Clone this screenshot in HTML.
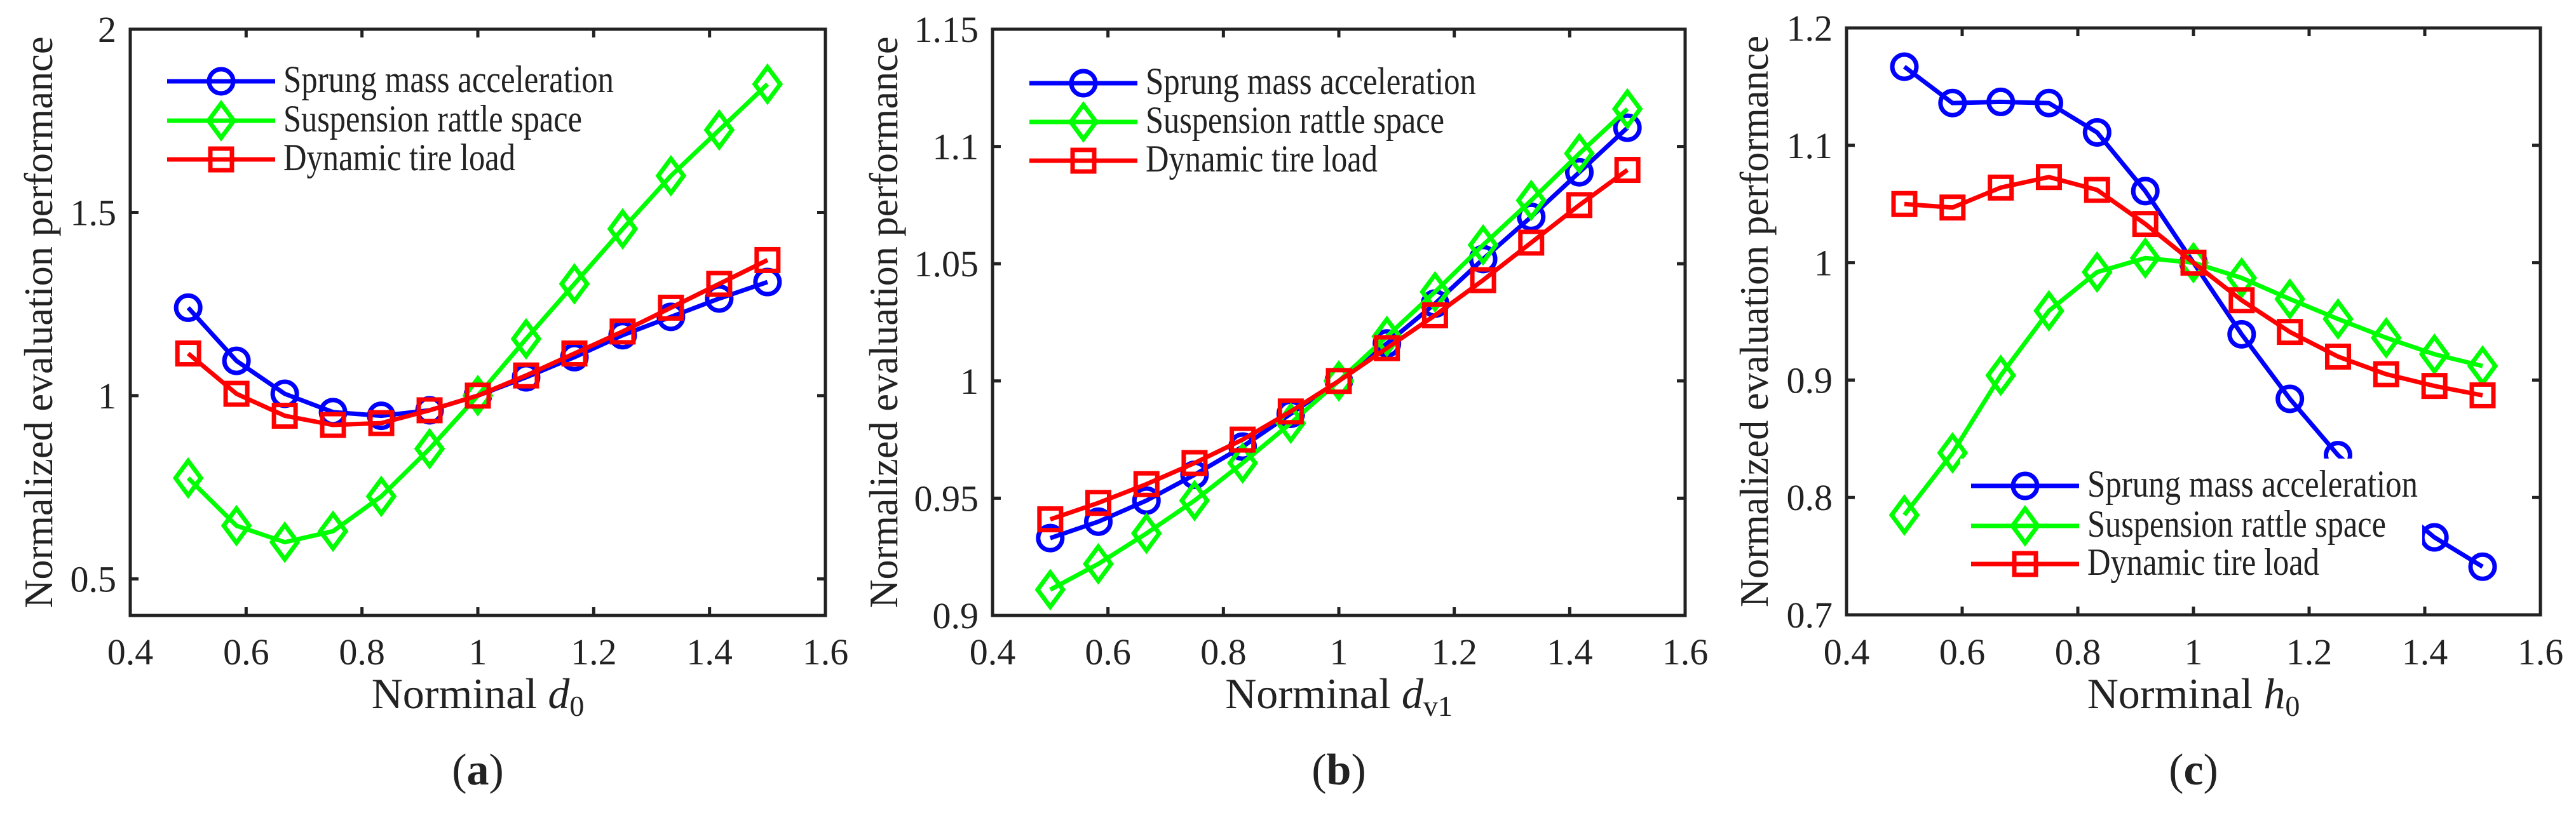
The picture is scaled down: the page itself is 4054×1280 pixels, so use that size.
<!DOCTYPE html>
<html><head><meta charset="utf-8"><style>
html,body{margin:0;padding:0;background:#fff}
svg{display:block}
svg text{font-family:"Liberation Serif","Times New Roman",serif;fill:#222}
</style></head><body>
<svg id="fig" xmlns="http://www.w3.org/2000/svg" width="4054" height="1280" viewBox="0 0 4054 1280" font-family="Liberation Serif, serif"></svg>
<script>
// shared x data
const xVals = [0.5,0.5833,0.6667,0.75,0.8333,0.9167,1.0,1.0833,1.1667,1.25,1.3333,1.4167,1.5];
const xTicks = [0.4,0.6,0.8,1,1.2,1.4,1.6];
const xTickLabels = ["0.4","0.6","0.8","1","1.2","1.4","1.6"];
const seriesNames = ["Sprung mass acceleration","Suspension rattle space","Dynamic tire load"];
// panel a
const aBlue  = [1.24,1.095,1.005,0.955,0.945,0.96,1.0,1.05,1.105,1.165,1.215,1.265,1.31];
const aGreen = [0.775,0.645,0.6,0.63,0.725,0.855,1.0,1.155,1.305,1.455,1.6,1.725,1.85];
const aRed   = [1.115,1.005,0.945,0.92,0.925,0.96,1.0,1.055,1.115,1.175,1.24,1.305,1.37];
const aYTicks = [0.5,1,1.5,2];
const aYTickLabels = ["0.5","1","1.5","2"];
// panel b
const bBlue  = [0.933,0.940,0.949,0.960,0.972,0.986,1.0,1.016,1.033,1.052,1.070,1.089,1.108];
const bGreen = [0.911,0.922,0.935,0.949,0.965,0.982,1.0,1.019,1.038,1.058,1.077,1.097,1.116];
const bRed   = [0.941,0.948,0.956,0.965,0.975,0.987,1.0,1.014,1.028,1.043,1.059,1.075,1.090];
const bYTicks = [0.9,0.95,1,1.05,1.1,1.15];
const bYTickLabels = ["0.9","0.95","1","1.05","1.1","1.15"];
// panel c
const cBlue  = [1.167,1.136,1.137,1.136,1.111,1.061,1.0,0.939,0.884,0.836,0.80,0.766,0.741];
const cGreen = [0.785,0.838,0.904,0.959,0.992,1.004,1.0,0.987,0.969,0.952,0.936,0.922,0.912];
const cRed   = [1.050,1.047,1.064,1.073,1.062,1.033,1.0,0.968,0.941,0.920,0.905,0.895,0.887];
const cYTicks = [0.7,0.8,0.9,1,1.1,1.2];
const cYTickLabels = ["0.7","0.8","0.9","1","1.1","1.2"];

const NS="http://www.w3.org/2000/svg";
const svg=document.getElementById('fig');
const SERIF='Liberation Serif, serif';
function mk(tag,attrs,parent){const e=document.createElementNS(NS,tag);if(tag==='text'&&!attrs['font-family'])e.setAttribute('font-family',SERIF);for(const k in attrs)e.setAttribute(k,attrs[k]);(parent||svg).appendChild(e);return e;}
const colorsLine=["#0000ff","#00ff00","#ff0000"];

function marker(g,type,cx,cy,col){
  let m;
  if(type===0){m=mk('circle',{cx:cx,cy:cy,r:19,fill:'none',stroke:col,'stroke-width':7},g);}
  else if(type===1){m=mk('polygon',{points:`${cx},${cy-27} ${cx+20},${cy} ${cx},${cy+27} ${cx-20},${cy}`,fill:'none',stroke:col,'stroke-width':7},g);}
  else {m=mk('rect',{x:cx-17,y:cy-17,width:34,height:34,fill:'none',stroke:col,'stroke-width':7},g);}
  return m;
}

function panel(p){
  const g=mk('g',{});
  
  
  const L=p.L,R=p.R,T=p.T,B=p.B;
  const sx=v=>L+(v-0.4)/1.2*(R-L);
  const sy=v=>B-(v-p.ymin)/(p.ymax-p.ymin)*(B-T);
  xTicks.forEach((t,i)=>{
    const x=sx(t);
    const tk=mk('path',{d:`M${x},${B}V${B-13}M${x},${T}V${T+13}`,stroke:'#222','stroke-width':5},g);
    
    
    const lb=mk('text',{x:x,y:1046,'font-size':58,'text-anchor':'middle'},g);
    lb.textContent=xTickLabels[i];
    
    
  });
  p.yt.forEach((t,i)=>{
    const y=sy(t);
    const tk=mk('path',{d:`M${L},${y}H${L+13}M${R},${y}H${R-13}`,stroke:'#222','stroke-width':5},g);
    
    
    const lb=mk('text',{x:L-22,y:y+20,'font-size':58,'text-anchor':'end'},g);
    lb.textContent=p.ytl[i];
    
    
  });
  p.series.forEach((s,si)=>{
    const sg=mk('g',{},g);
    
    
    const pts=s.map((v,i)=>sx(xVals[i])+','+sy(v)).join(' ');
    const pl=mk('polyline',{points:pts,fill:'none',stroke:colorsLine[si],'stroke-width':7,'stroke-linejoin':'round'},sg);
    
    
    s.forEach((v,i)=>{
      const m=marker(sg,si,sx(xVals[i]),sy(v),colorsLine[si]);
      
      
    });
  });
  const lg=mk('g',{},g);
  
  
  if(p.legBox){const bx=mk('rect',{x:p.legBox[0],y:p.legBox[1],width:p.legBox[2],height:p.legBox[3],fill:'#fff'},lg);
    
    }
  const legW=[520,470,365];
  seriesNames.forEach((n,i)=>{
    const y=p.legY[i];
    const e=mk('g',{},lg);
    
    
    mk('line',{x1:p.legX,y1:y,x2:p.legX+170,y2:y,stroke:colorsLine[i],'stroke-width':7},e);
    marker(e,i,p.legX+85,y,colorsLine[i]);
    const t=mk('text',{x:p.legX+183,y:y+17,'font-size':60,textLength:legW[i],lengthAdjust:'spacingAndGlyphs'},e);
    t.textContent=n;
  });
  const box=mk('rect',{x:L,y:T,width:R-L,height:B-T,fill:'none',stroke:'#222','stroke-width':5},g);
  
  
  const yt=mk('text',{x:0,y:0,'font-size':64,'text-anchor':'middle',transform:`translate(${p.ytx},${(T+B)/2}) rotate(-90)`,textLength:900,lengthAdjust:'spacingAndGlyphs'},g);
  yt.textContent='Normalized evaluation performance';
  
  
  const xt=mk('text',{x:(L+R)/2,y:1115,'font-size':68,'text-anchor':'middle'},g);
  xt.innerHTML='Norminal <tspan font-style="italic">'+p.xv+'</tspan><tspan font-size="46" dy="12">'+p.xs+'</tspan>';
  
  
  const cap=mk('text',{x:(L+R)/2,y:1235,'font-size':70,'text-anchor':'middle'},g);
  cap.innerHTML='(<tspan font-weight="bold">'+p.cap+'</tspan>)';
  
  
}

panel({name:'panel-a',L:205,R:1299,T:46,B:969,ymin:0.4,ymax:2.0,yt:aYTicks,ytl:aYTickLabels,series:[aBlue,aGreen,aRed],
  legX:263,legY:[128,190,251],ytx:82,xv:'d',xs:'0',cap:'a'});
panel({name:'panel-b',L:1562,R:2652,T:46,B:969,ymin:0.9,ymax:1.15,yt:bYTicks,ytl:bYTickLabels,series:[bBlue,bGreen,bRed],
  legX:1620,legY:[131,192,253],ytx:1412,xv:'d',xs:'v1',cap:'b'});
panel({name:'panel-c',L:2906,R:3998,T:44,B:968,ymin:0.7,ymax:1.2,yt:cYTicks,ytl:cYTickLabels,series:[cBlue,cGreen,cRed],
  legX:3102,legY:[765,828,888],legBox:[3085,722,727,200],ytx:2782,xv:'h',xs:'0',cap:'c'});
</script>
</body></html>
